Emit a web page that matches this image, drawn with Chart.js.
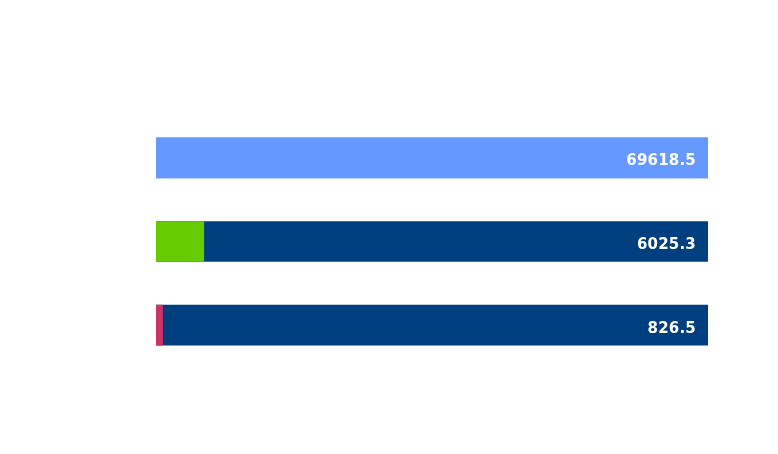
<!DOCTYPE html>
<html>
<head>
<meta charset="utf-8">
<script src="https://cdn.jsdelivr.net/npm/chart.js@4/dist/chart.umd.min.js"></script>
<style>
  html, body { margin: 0; padding: 0; background: #fff; }
  #chart { display: block; }
</style>
</head>
<body>
<canvas id="chart" width="778" height="454"></canvas>
<script>
// chart data
const categories = ['Row 1', 'Row 2', 'Row 3'];
const values = [69618.5, 6025.3, 826.5];
const totals = [69618.5, 69618.5, 69618.5];
const valueColors = ['#6699ff', '#66cc00', '#cc3366'];
const totalColors = ['#6699ff', '#003f7f', '#003f7f'];

const valueLabels = {
  id: 'valueLabels',
  afterDatasetsDraw(chart) {
    const ctx = chart.ctx;
    const meta = chart.getDatasetMeta(1);
    ctx.save();
    ctx.font = 'bold 15px "DejaVu Sans"';
    ctx.letterSpacing = '0.2px';
    ctx.fillStyle = '#ffffff';
    ctx.textAlign = 'right';
    ctx.textBaseline = 'alphabetic';
    meta.data.forEach((bar, i) => {
      ctx.fillText(values[i].toFixed(1), bar.x - 12, bar.y + 7.5);
    });
    ctx.restore();
  }
};

new Chart(document.getElementById('chart').getContext('2d'), {
  type: 'bar',
  data: {
    labels: categories,
    datasets: [
      {
        data: values,
        backgroundColor: valueColors,
        grouped: false,
        barThickness: 40
      },
      {
        data: totals,
        backgroundColor: totalColors,
        grouped: false,
        barThickness: 40
      }
    ]
  },
  options: {
    indexAxis: 'y',
    responsive: false,
    animation: false,
    layout: { padding: { left: 156, right: 70, top: 116, bottom: 87 } },
    scales: {
      x: { display: false, min: 0, max: 69618.5 },
      y: { display: false }
    },
    plugins: {
      legend: { display: false },
      tooltip: { enabled: false }
    }
  },
  plugins: [valueLabels]
});
</script>
</body>
</html>
